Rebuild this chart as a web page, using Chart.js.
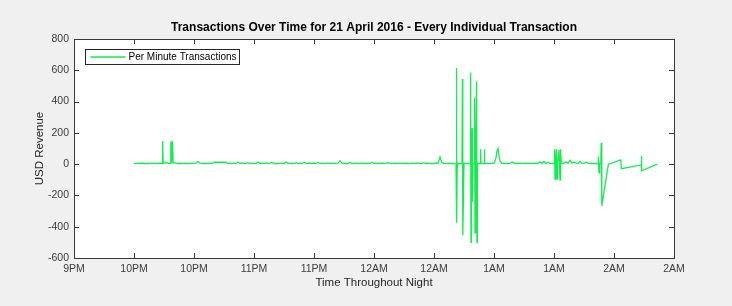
<!DOCTYPE html>
<html>
<head>
<meta charset="utf-8">
<script src="https://cdn.jsdelivr.net/npm/chart.js"></script>
<style>
  html, body { margin: 0; padding: 0; background: #f0f0f0; }
  #wrap { width: 732px; height: 306px; }
</style>
</head>
<body>
<div id="wrap"><canvas id="chart" width="732" height="306"></canvas></div>
<script>
// tick labels, one every 30 minutes starting 21:30
var timeLabels = ['9PM', '10PM', '10PM', '11PM', '11PM', '12AM', '12AM', '1AM', '1AM', '2AM', '2AM'];
var revenueTicks = [-600, -400, -200, 0, 200, 400, 600, 800];
var chartTitle = 'Transactions Over Time for 21 April 2016 - Every Individual Transaction';

// minutes after 21:30, and revenue (USD) at that moment
var minutes = [
  30, 31, 32, 33, 34, 35, 36, 37, 38, 39,
  40, 41, 42, 43, 44, 44.3, 44.6, 45, 46, 47,
  48, 48.4, 48.8, 49.2, 49.6, 50, 51, 52, 53, 54,
  55, 56, 57, 58, 59, 60, 61, 62, 63, 64,
  65, 66, 67, 68, 69, 70, 76, 77, 78, 79,
  80, 81, 82, 83, 84, 85, 86, 87, 88, 89,
  90, 91, 92, 93, 94, 95, 96, 97, 98, 99,
  100, 101, 102, 103, 104, 105, 106, 107, 108, 109,
  110, 111, 112, 113, 114, 115, 116, 117, 118, 119,
  120, 121, 122, 123, 124, 125, 126, 127, 128, 129,
  130, 131, 132, 133, 134, 135, 136, 137, 138, 139,
  140, 141, 142, 143, 144, 145, 146, 147, 148, 149,
  150, 151, 152, 153, 154, 155, 156, 157, 158, 159,
  160, 161, 162, 163, 164, 165, 166, 167, 168, 169,
  170, 171, 172, 173, 174, 175, 176, 177, 178, 179,
  180, 181, 182, 183, 184, 185, 186, 187, 188, 189,
  190, 191, 191.2, 191.4, 191.6, 192, 193, 194, 194.2, 194.4,
  195, 196, 197, 198, 198.3, 198.5, 198.7, 199, 199.2, 199.5,
  200, 200.3, 200.5, 200.8, 201.3, 201.5, 201.7, 202, 203, 203.3,
  203.5, 204, 205, 205.2, 205.4, 206, 207, 208, 209, 210,
  211, 211.5, 212, 212.5, 213, 214, 215, 216, 217, 218,
  219, 220, 221, 222, 223, 224, 225, 226, 227, 228,
  229, 230, 231, 232, 233, 234, 235, 236, 237, 238,
  239, 240, 240.3, 240.5, 240.8, 241.2, 241.5, 241.8, 242.5, 243,
  243.3, 243.6, 244, 245, 246, 247, 248, 249, 250, 251,
  252, 253, 254, 255, 256, 257, 258, 259, 260, 261,
  262, 262.2, 262.5, 262.8, 263.4, 263.6, 263.9, 267.2, 273.4, 273.7,
  283.6, 283.7, 283.9, 291.7
];
var revenue = [
  5, 3, 6, 4, 7, 3, 5, 2, 6, 4,
  8, 3, 5, 6, 4, 148, 5, 7, 9, 5,
  4, 145, 8, 150, 9, 10, 6, 4, 5, 3,
  6, 4, 5, 3, 7, 5, 6, 18, 6, 4,
  3, 5, 4, 6, 5, 12, 13, 4, 6, 3,
  7, 5, 12, 4, 6, 3, 5, 9, 4, 6,
  3, 5, 14, 4, 6, 5, 8, 3, 6, 11,
  4, 5, 3, 7, 5, 4, 13, 5, 6, 3,
  5, 8, 4, 6, 3, 12, 5, 4, 7, 3,
  6, 5, 9, 4, 6, 3, 5, 8, 4, 6,
  5, 3, 7, 22, 6, 4, 5, 3, 10, 5,
  4, 6, 3, 5, 8, 4, 6, 3, 5, 12,
  4, 6, 5, 3, 7, 4, 6, 10, 5, 3,
  6, 4, 5, 8, 3, 6, 4, 5, 3, 7,
  5, 4, 6, 3, 5, 9, 4, 6, 3, 5,
  4, 6, 5, 45, 8, 5, 3, 6, 4, 5,
  3, 2, 615, -375, -30, 4, 3, 5, 545, -455,
  6, 4, 5, 3, 585, -500, 5, 230, -240, 6,
  4, 425, -440, 5, 530, -500, 4, 6, 5, 95,
  5, 4, 3, 95, 6, 4, 5, 3, 6, 5,
  40, 85, 100, 55, 20, 5, 6, 4, 5, 3,
  15, 5, 4, 6, 3, 5, 7, 4, 6, 3,
  5, 4, 6, 5, 15, 4, 18, 3, 12, 4,
  5, 6, 95, -96, 5, 95, -96, 4, 90, -100,
  95, 5, 4, 6, 15, 5, 25, 8, 12, 6,
  4, 18, 7, 5, 12, 6, 4, 5, 3, 4,
  3, 48, -55, 2, 2, 137, -267, 0, 27, -29,
  -5, 52, -43, 0
];

var points = minutes.map(function(m, i) {
  return {x: m, y: revenue[i]};
});

var lineColor = '#12ee4e';
var axisColor = '#3a3a3a';

// background, axes box, inward tick marks, title and legend box (MATLAB look)
var matlabLook = {
  id: 'matlabLook',
  beforeDraw: function(chart) {
    var ctx = chart.ctx, a = chart.chartArea;
    ctx.save();
    ctx.fillStyle = '#f0f0f0';
    ctx.fillRect(0, 0, chart.width, chart.height);
    ctx.fillStyle = '#ffffff';
    ctx.fillRect(a.left, a.top, a.right - a.left, a.bottom - a.top);
    ctx.restore();
  },
  afterDraw: function(chart) {
    var ctx = chart.ctx, a = chart.chartArea;
    var xs = chart.scales.x, ys = chart.scales.y;
    ctx.save();
    ctx.strokeStyle = axisColor;
    ctx.lineWidth = 1;
    ctx.beginPath();
    xs.ticks.forEach(function(t) {
      var px = Math.round(xs.getPixelForValue(t.value)) + 0.5;
      ctx.moveTo(px, a.bottom); ctx.lineTo(px, a.bottom - 5);
      ctx.moveTo(px, a.top); ctx.lineTo(px, a.top + 5);
    });
    ys.ticks.forEach(function(t) {
      var py = Math.round(ys.getPixelForValue(t.value)) + 0.5;
      ctx.moveTo(a.left, py); ctx.lineTo(a.left + 5, py);
      ctx.moveTo(a.right, py); ctx.lineTo(a.right - 5, py);
    });
    ctx.stroke();
    ctx.strokeRect(Math.round(a.left) + 0.5, Math.round(a.top) + 0.5,
                   Math.round(a.right - a.left), Math.round(a.bottom - a.top));

    // title, centred over the axes like MATLAB does
    ctx.fillStyle = '#000000';
    ctx.font = 'bold 12px "Liberation Sans", Arial, sans-serif';
    ctx.textAlign = 'center';
    ctx.textBaseline = 'middle';
    ctx.fillText(chartTitle, (a.left + a.right) / 2, 27.5);

    // legend
    var lx = a.left + 11.5, ly = a.top + 10.5, lw = 154, lh = 15;
    ctx.fillStyle = '#ffffff';
    ctx.fillRect(lx, ly, lw, lh);
    ctx.strokeStyle = '#262626';
    ctx.strokeRect(lx, ly, lw, lh);
    ctx.strokeStyle = lineColor;
    ctx.lineWidth = 1.3;
    ctx.beginPath();
    ctx.moveTo(lx + 5, ly + 7.5);
    ctx.lineTo(lx + 40, ly + 7.5);
    ctx.stroke();
    ctx.fillStyle = '#000000';
    ctx.font = '10px "Liberation Sans", Arial, sans-serif';
    ctx.textAlign = 'left';
    ctx.fillText(chart.data.datasets[0].label, lx + 43, ly + 8);
    ctx.restore();
  }
};

Chart.defaults.font.family = '"Liberation Sans", Arial, sans-serif';

new Chart(document.getElementById('chart'), {
  type: 'line',
  data: {
    datasets: [{
      label: 'Per Minute Transactions',
      data: points,
      borderColor: lineColor,
      borderWidth: 1.3,
      pointRadius: 0,
      tension: 0,
      fill: false
    }]
  },
  options: {
    responsive: false,
    animation: false,
    events: [],
    layout: { padding: { left: 0, right: 58, top: 39, bottom: 0 } },
    plugins: {
      legend: { display: false },
      tooltip: { enabled: false },
      title: { display: false }
    },
    scales: {
      x: {
        type: 'linear',
        min: 0,
        max: 300,
        afterFit: function(s) { s.height = 48; },
        grid: { display: false, drawTicks: false },
        border: { display: false },
        ticks: {
          stepSize: 30,
          autoSkip: false,
          maxRotation: 0,
          padding: 5,
          color: '#3c3c3c',
          font: { size: 10.5 },
          callback: function(v) { return timeLabels[Math.round(v / 30)]; }
        },
        title: {
          display: true,
          text: 'Time Throughout Night',
          color: '#262626',
          font: { size: 11.5 },
          padding: { top: 0, bottom: 16 }
        }
      },
      y: {
        min: revenueTicks[0],
        max: revenueTicks[revenueTicks.length - 1],
        afterFit: function(s) { s.width = 74; },
        grid: { display: false, drawTicks: false },
        border: { display: false },
        ticks: {
          stepSize: 200,
          padding: 5,
          color: '#3c3c3c',
          font: { size: 10.5 }
        },
        title: {
          display: true,
          text: 'USD Revenue',
          color: '#262626',
          font: { size: 11.5 },
          padding: { top: 33, bottom: 0 }
        }
      }
    }
  },
  plugins: [matlabLook]
});
</script>
</body>
</html>
